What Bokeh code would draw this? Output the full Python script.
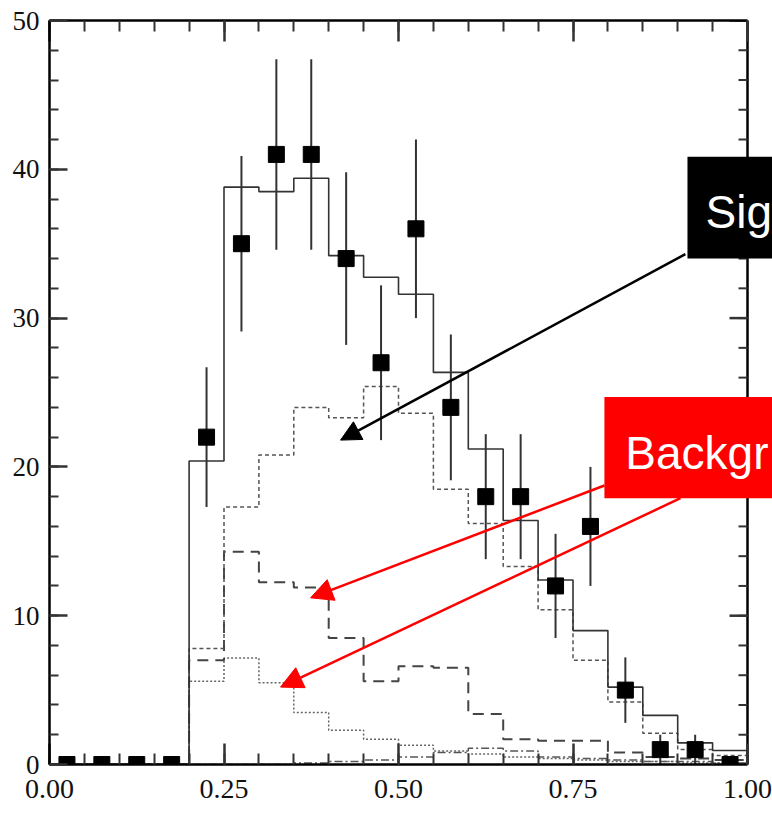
import numpy as np
from bokeh.plotting import figure
from bokeh.models import (FixedTicker, LinearAxis, CustomJSTickFormatter, NumeralTickFormatter,
                          Arrow, NormalHead, Label, BoxAnnotation, Range1d)
from bokeh.embed import file_html
from bokeh.resources import INLINE

# ---- data ----
bin_edges = [0.00, 0.05, 0.10, 0.15, 0.20, 0.25, 0.30, 0.35, 0.40, 0.45, 0.50,
             0.55, 0.60, 0.65, 0.70, 0.75, 0.80, 0.85, 0.90, 0.95, 1.00]
bin_centers = [0.025, 0.075, 0.125, 0.175, 0.225, 0.275, 0.325, 0.375, 0.425, 0.475,
               0.525, 0.575, 0.625, 0.675, 0.725, 0.775, 0.825, 0.875, 0.925, 0.975]
data_counts = [0, 0, 0, 0, 22, 35, 41, 41, 34, 27, 36, 24, 18, 18, 12, 16, 5, 1, 1, 0]
data_errors = [0, 0, 0, 0, 4.7, 5.9, 6.4, 6.4, 5.8, 5.2, 6.0, 4.9, 4.2, 4.2, 3.5, 4.0, 2.2, 1.0, 1.0, 0]
total_mc = [0, 0, 0, 0, 20.4, 38.8, 38.5, 39.4, 34.2, 32.75, 31.6, 26.35, 21.2, 16.4, 12.4,
            9.0, 5.2, 3.3, 1.45, 0.94]
signal_mc = [0, 0, 0, 0, 7.8, 17.3, 20.8, 24.0, 23.3, 25.4, 23.6, 18.5, 16.2, 13.3, 10.4,
             7.0, 4.2, 2.1, 1.0, 0.6]
bkg1_mc = [0, 0, 0, 0, 7.0, 14.3, 12.25, 11.9, 8.5, 5.6, 6.6, 6.5, 3.4, 1.7, 1.6,
           1.6, 0.8, 0.5, 0.4, 0.3]
bkg2_mc = [0, 0, 0, 0, 5.6, 7.15, 5.5, 3.5, 2.3, 1.7, 1.3, 0.9, 0.7, 0.5, 0.4,
           0.3, 0.2, 0.2, 0.1, 0.1]
bkg3_mc = [0, 0, 0, 0, 0, 0, 0, 0.1, 0.2, 0.3, 0.5, 0.8, 1.1, 0.9, 0.5,
           0.4, 0.3, 0.2, 0.2, 0.1]
x_major = [0.0, 0.25, 0.50, 0.75, 1.0]
y_major = [0, 10, 20, 30, 40, 50]
x_minor = [0.00, 0.05, 0.10, 0.15, 0.20, 0.25, 0.30, 0.35, 0.40, 0.45, 0.50,
           0.55, 0.60, 0.65, 0.70, 0.75, 0.80, 0.85, 0.90, 0.95, 1.00]
y_minor = [0, 2, 4, 6, 8, 10, 12, 14, 16, 18, 20, 22, 24, 26, 28, 30,
           32, 34, 36, 38, 40, 42, 44, 46, 48, 50]
signal_text = "Sig"
background_text = "Backgr"

# layout (pixels)
W, H = 772, 813
LEFT, TOP, BOTTOM = 49, 20, 49
PLOT_PX = 698            # pixels between x=0 and x=1
X_END = (W - LEFT) / PLOT_PX   # frame runs to the right edge so the boxes can reach it


def step_xy(edges, vals):
    e = np.asarray(edges)
    v = np.asarray(vals, dtype=float)
    xs = np.repeat(e, 2)[1:-1]
    ys = np.repeat(v, 2)
    xs = np.concatenate([[e[0]], xs, [e[-1]]])
    ys = np.concatenate([[0.0], ys, [0.0]])
    return xs, ys


p = figure(width=W, height=H, output_backend="svg", toolbar_location=None,
           x_range=Range1d(0, X_END), y_range=Range1d(0, 50),
           min_border_left=LEFT, min_border_right=0, min_border_top=TOP, min_border_bottom=BOTTOM)
p.xgrid.visible = False
p.ygrid.visible = False
p.outline_line_color = None
p.background_fill_color = "white"
p.border_fill_color = "white"

xt = FixedTicker(ticks=x_major, minor_ticks=x_minor)
yt = FixedTicker(ticks=y_major, minor_ticks=y_minor)

xb = p.below[0]
yl = p.left[0]
xb.ticker = xt
yl.ticker = yt
xb.formatter = NumeralTickFormatter(format="0.00")

blank = CustomJSTickFormatter(code="return ''")
xa = LinearAxis(ticker=xt, formatter=blank)
p.add_layout(xa, "above")

for ax in (xb, xa):
    ax.major_tick_in = 21
    ax.minor_tick_in = 11
    ax.bounds = (0, 1)
yl.major_tick_in = 18
yl.minor_tick_in = 9
for ax in (xb, xa, yl):
    ax.major_tick_out = 0
    ax.minor_tick_out = 0
    ax.axis_line_color = "black"
    ax.axis_line_width = 2.5
    ax.major_tick_line_color = "#333333"
    ax.minor_tick_line_color = "#333333"
    ax.major_tick_line_width = 2.5
    ax.minor_tick_line_width = 2
    ax.major_label_text_font = "Liberation Serif"
    ax.major_label_text_color = "#111111"

xb.major_label_text_font_size = "28px"
xb.major_label_standoff = 15
yl.major_label_text_font_size = "27px"
yl.major_label_standoff = 10
xa.major_label_text_font_size = "1px"
xa.major_label_standoff = 0

# right frame edge with inward ticks at x = 1
p.segment(x0=[1.0], y0=[0], x1=[1.0], y1=[50], line_color="black", line_width=2.5)
maj_len = 18 / PLOT_PX
min_len = 9 / PLOT_PX
p.segment(x0=[1.0 - maj_len] * len(y_major), y0=y_major, x1=[1.0] * len(y_major), y1=y_major,
          line_color="#333333", line_width=2.5)
p.segment(x0=[1.0 - min_len] * len(y_minor), y0=y_minor, x1=[1.0] * len(y_minor), y1=y_minor,
          line_color="#333333", line_width=2)

# histograms
xs, ys = step_xy(bin_edges, bkg3_mc)
p.line(xs, ys, line_color="#555555", line_width=1.5, line_dash="8 3 2 3")
xs, ys = step_xy(bin_edges, bkg2_mc)
p.line(xs, ys, line_color="#666666", line_width=1.5, line_dash="2 2")
xs, ys = step_xy(bin_edges, bkg1_mc)
p.line(xs, ys, line_color="#444444", line_width=2, line_dash="11 7")
xs, ys = step_xy(bin_edges, signal_mc)
p.line(xs, ys, line_color="#555555", line_width=1.5, line_dash="4 3")
xs, ys = step_xy(bin_edges, total_mc)
p.line(xs, ys, line_color="#333333", line_width=1.6)

# data points with error bars
lo = [c - e for c, e in zip(data_counts, data_errors)]
hi = [c + e for c, e in zip(data_counts, data_errors)]
p.segment(x0=bin_centers, y0=lo, x1=bin_centers, y1=hi, line_color="#333333", line_width=2)
p.scatter(bin_centers, data_counts, marker="square", size=16, fill_color="black", line_color="black")

# annotations
p.add_layout(BoxAnnotation(left=0.914, right=X_END + 0.1, bottom=34.0, top=40.85,
                           fill_color="black", fill_alpha=1.0, line_color=None, level="overlay"))
p.add_layout(BoxAnnotation(left=0.795, right=X_END + 0.1, bottom=17.9, top=24.7,
                           fill_color="#ff0000", fill_alpha=1.0, line_color=None, level="overlay"))
p.add_layout(Label(x=0.940, y=37.12, text=signal_text, text_color="white",
                   text_font="Liberation Sans", text_font_size="46px",
                   text_baseline="alphabetic", level="overlay"))
p.add_layout(Label(x=0.825, y=20.92, text=background_text, text_color="white",
                   text_font="Liberation Sans", text_font_size="46px",
                   text_baseline="alphabetic", level="overlay"))

p.add_layout(Arrow(x_start=0.911, y_start=34.3, x_end=0.417, y_end=21.8,
                   line_color="black", line_width=2.5,
                   end=NormalHead(size=20, fill_color="black", line_color="black")))
p.add_layout(Arrow(x_start=0.795, y_start=18.75, x_end=0.374, y_end=11.2,
                   line_color="#ff0000", line_width=2.5,
                   end=NormalHead(size=22, fill_color="#ff0000", line_color="#ff0000")))
p.add_layout(Arrow(x_start=0.904, y_start=17.9, x_end=0.331, y_end=5.2,
                   line_color="#ff0000", line_width=2.5,
                   end=NormalHead(size=22, fill_color="#ff0000", line_color="#ff0000")))

open("out.html", "w").write(file_html(p, INLINE))
